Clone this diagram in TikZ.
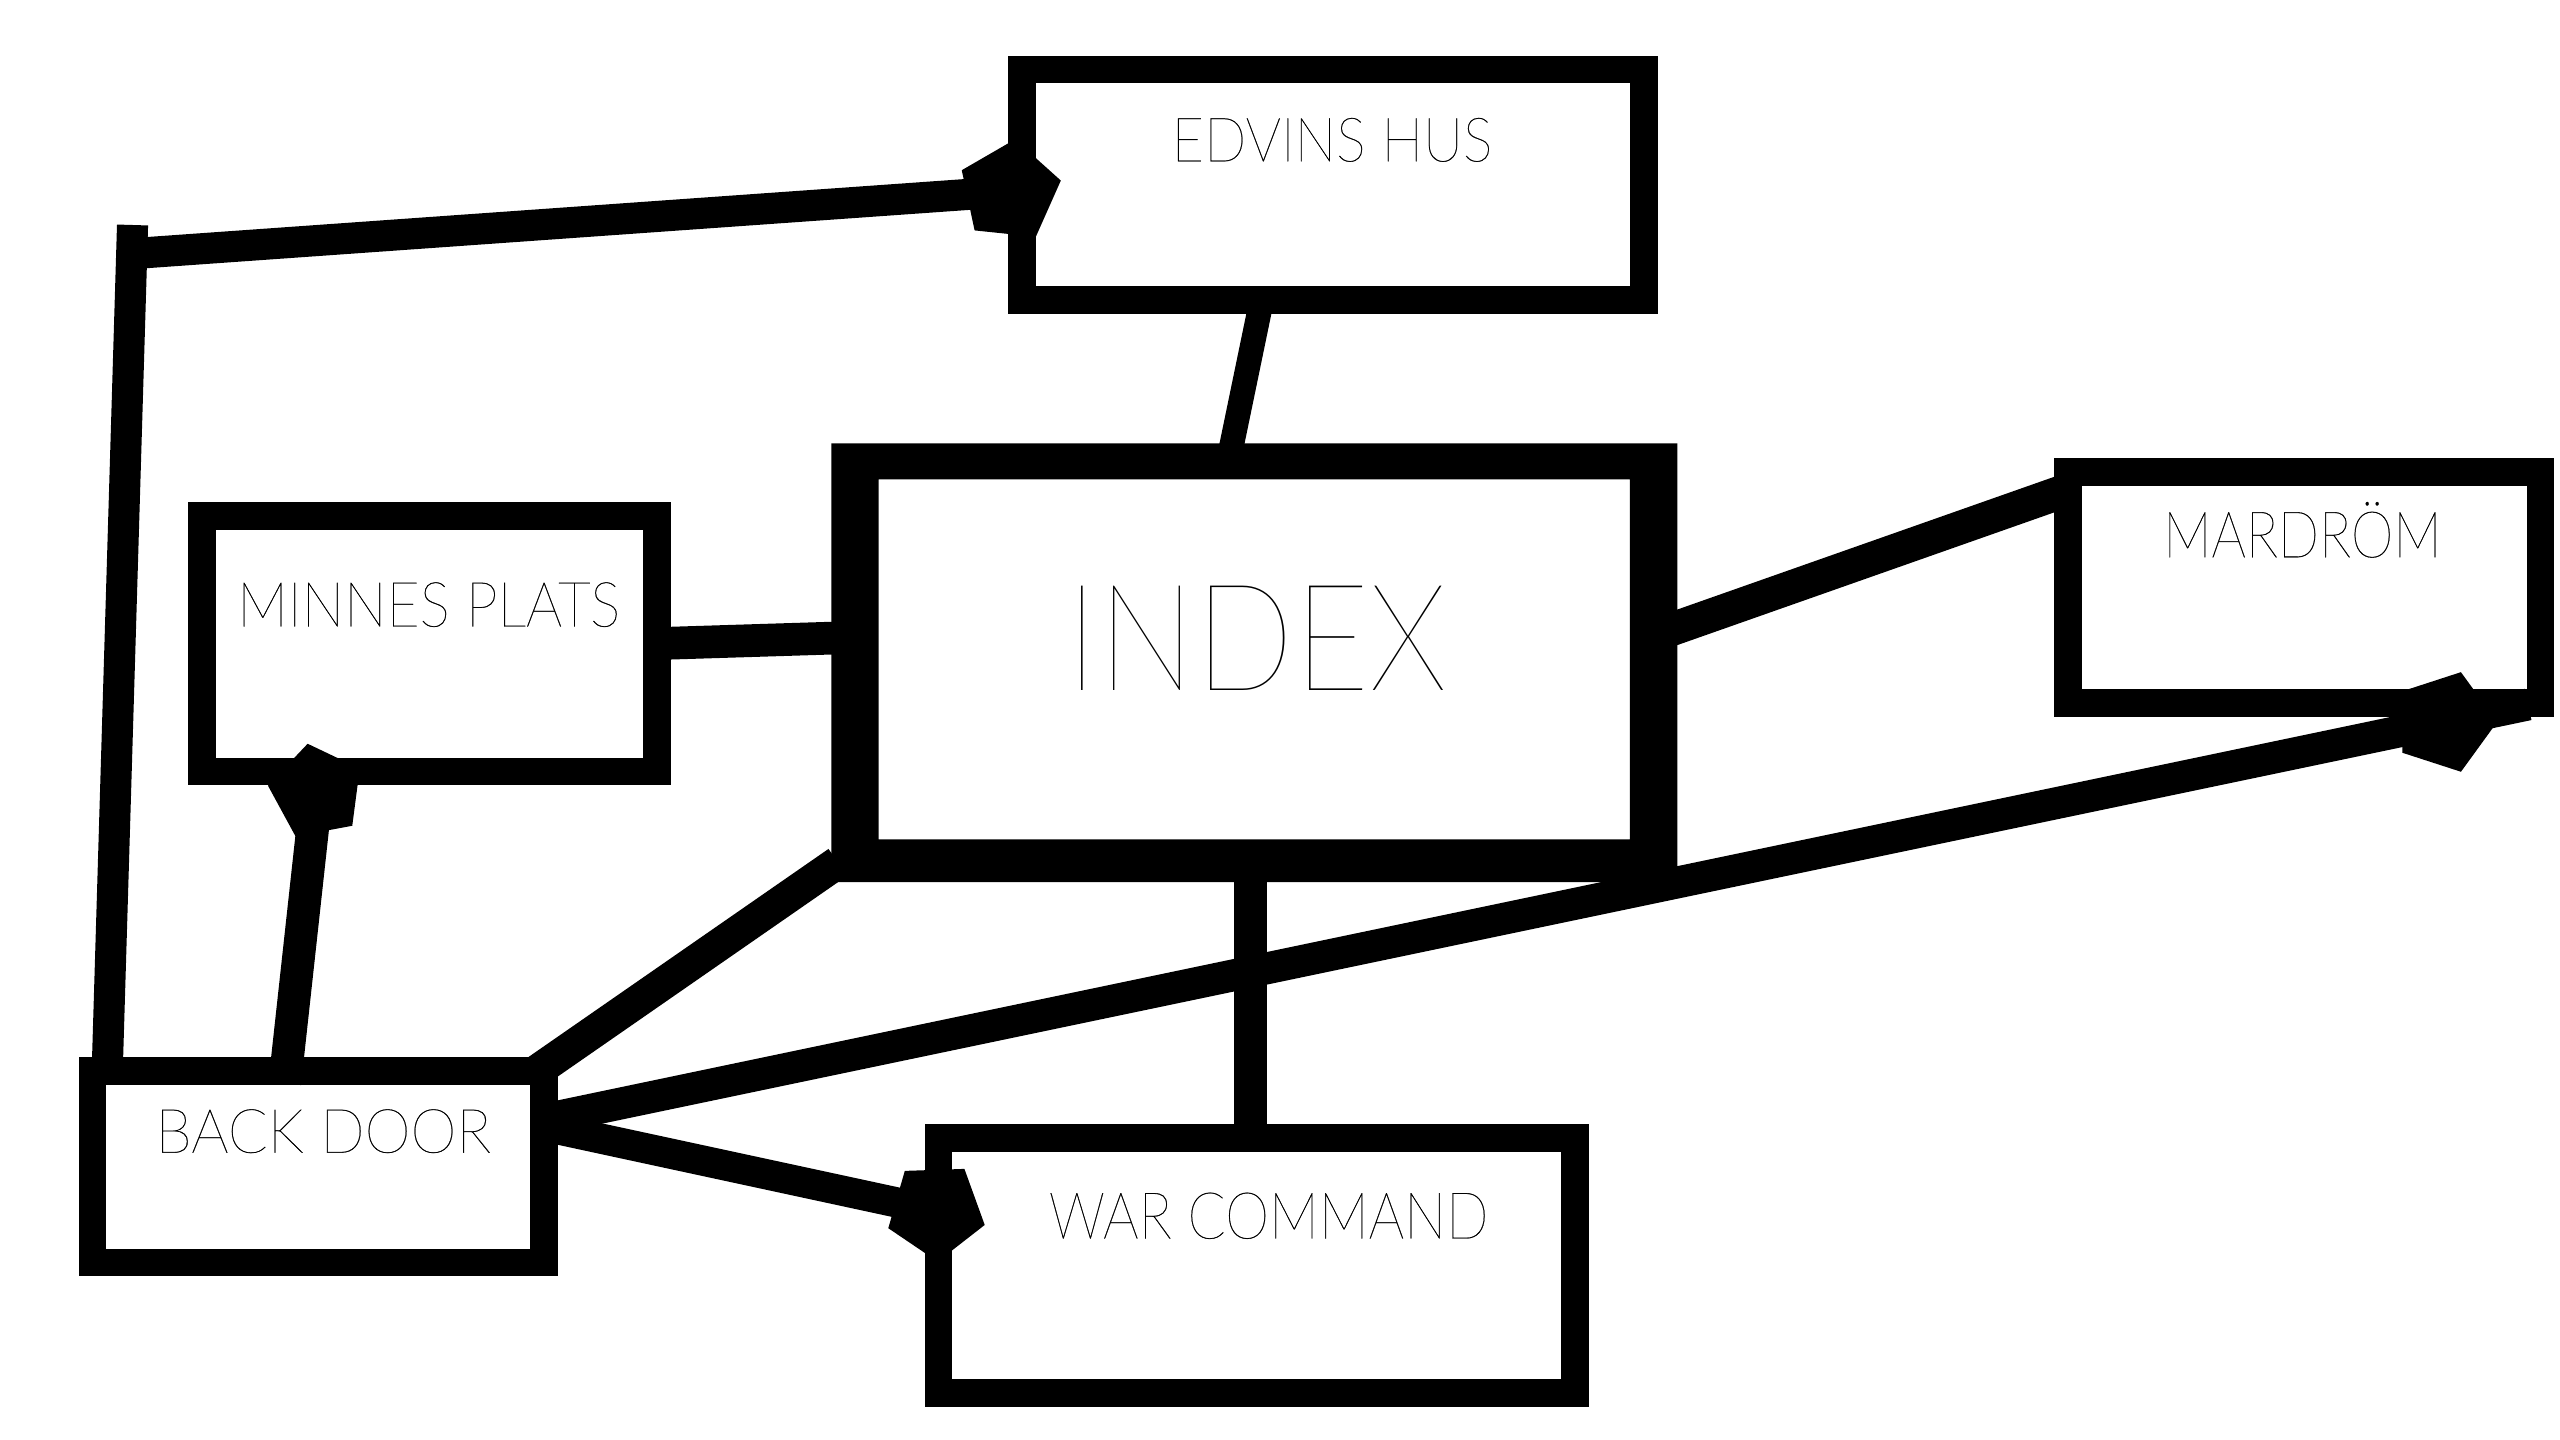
\documentclass[tikz,border=0pt]{standalone}
\usepackage{fontspec}
\usepackage{graphicx}
\usetikzlibrary{calc,decorations.markings}
\IfFontExistsTF{Lato Thin}{\def\thinname{Lato Thin}}{%
 \IfFontExistsTF{Lato Hairline}{\def\thinname{Lato Hairline}}{%
  \IfFontExistsTF{Poppins Thin}{\def\thinname{Poppins Thin}}{%
   \IfFontExistsTF{Fira Sans Thin}{\def\thinname{Fira Sans Thin}}{%
    \IfFontExistsTF{Lato Light}{\def\thinname{Lato Light}}{%
     \def\thinname{Lato}}}}}}
\newfontfamily\thinf{\thinname}
\newfontfamily\thinlbl{\thinname}[FakeBold=0.4]
\begin{document}
\begin{tikzpicture}[x=1pt,y=-1pt,
  box/.style={draw=black, line width=17pt, rectangle, inner sep=0pt, outer sep=0pt},
  conn/.style={draw=black, line width=#1, line cap=butt},
  conn/.default=19pt,
  lbl/.style={inner sep=0pt, outer sep=0pt, text=black, font=\thinlbl\fontsize{40}{40}\selectfont},
  biglbl/.style={inner sep=0pt, outer sep=0pt, text=black, font=\thinf\fontsize{40}{40}\selectfont},
  pent/.style n args={3}{postaction={decorate, decoration={markings,
      mark=at position #1 with {\fill[black, rotate=#2] (0:#3) -- (72:#3) -- (144:#3) -- (216:#3) -- (288:#3) -- cycle;}}}}
]
% canvas
\fill[white] (0,0) rectangle (1564.44,880);
\useasboundingbox (0,0) rectangle (1564.44,880);

% boxes
\node[box, minimum width=380pt, minimum height=141pt] (edvins) at (814.5,113) {};
\node[box, minimum width=278pt, minimum height=156pt] (minnes) at (262.5,393.5) {};
\node[box, minimum width=276pt, minimum height=117pt] (backdoor) at (194.5,713) {};
\node[box, minimum width=389pt, minimum height=156pt] (war) at (768,773.5) {};
\node[box, minimum width=288.5pt, minimum height=141pt] (mardrom) at (1408.25,359) {};
\node[rectangle, inner sep=0pt, outer sep=0pt, minimum width=459pt, minimum height=220pt] (index) at (766.5,403) {};
\fill[black, even odd rule] ($(index.north west)+(-29,-22)$) rectangle ($(index.south east)+(29,26)$)
   (index.north west) rectangle (index.south east);

% labels
\node[lbl] (edvinsT) at (814,85.5) {\resizebox{196pt}{26.5pt}{EDVINS HUS}};
\node[lbl] (minnesT) at (262,369.5) {\resizebox{234pt}{27pt}{MINNES PLATS}};
\node[lbl] (backT) at (197.5,691.3) {\resizebox{205pt}{26.5pt}{BACK DOOR}};
\node[lbl] (warT) at (775.3,743) {\resizebox{268.6pt}{28pt}{WAR COMMAND}};
\node[lbl] (mardT) at (1407,326.8) {\resizebox{170pt}{27.5pt}{MARDR\smash{Ö}M}};
\node[biglbl] (indexT) at (768.3,389.9) {\resizebox{232.5pt}{63.8pt}{INDEX}};

% connectors
\draw[conn=15pt] ($(edvins.south)+(-43.5,0)$) -- ($(index.north)+(-16.5,-8)$);
\draw[conn=20pt] ($(minnes.east)+(0,-0.2)$) -- ($(index.west)+(-17,-13.4)$);
\draw[conn=20.5pt] ($(index.east)+(17,-15.4)$) -- ($(mardrom.west)+(0,-59.8)$);
\draw[conn=20pt] ($(index.south)+(-2.5,13)$) -- ($(war.north)+(-4,0)$);
\draw[conn=20pt] ($(backdoor.north east)+(-4.9,0.4)$) -- ($(index.south west)+(-25,14)$);
\draw[conn=19.5pt, pent={-52pt}{-11.8}{32pt}] ($(backdoor.east)+(5.5,-30)$) -- ($(mardrom.south east)+(-7.5,1)$);
\draw[conn=18.5pt, pent={1}{-3.9}{31pt}] ($(backdoor.east)+(5.5,-23.5)$) -- ($(war.west)+(-1.5,-33.5)$);
\draw[conn=20pt, pent={1}{16.8}{30pt}] ($(backdoor.north)+(-20.5,7.5)$) -- ($(minnes.south)+(-69,12.5)$);
\coordinate (bend) at (81,137.5);
\draw[conn=19pt] ($(backdoor.north west)+(9,0.5)$) -- (bend);
\draw[conn=19pt, pent={1}{8}{32pt}] ($(bend)+(0,17.5)$) -- ($(edvins.west)+(-7.5,4)$);
\end{tikzpicture}
\end{document}
